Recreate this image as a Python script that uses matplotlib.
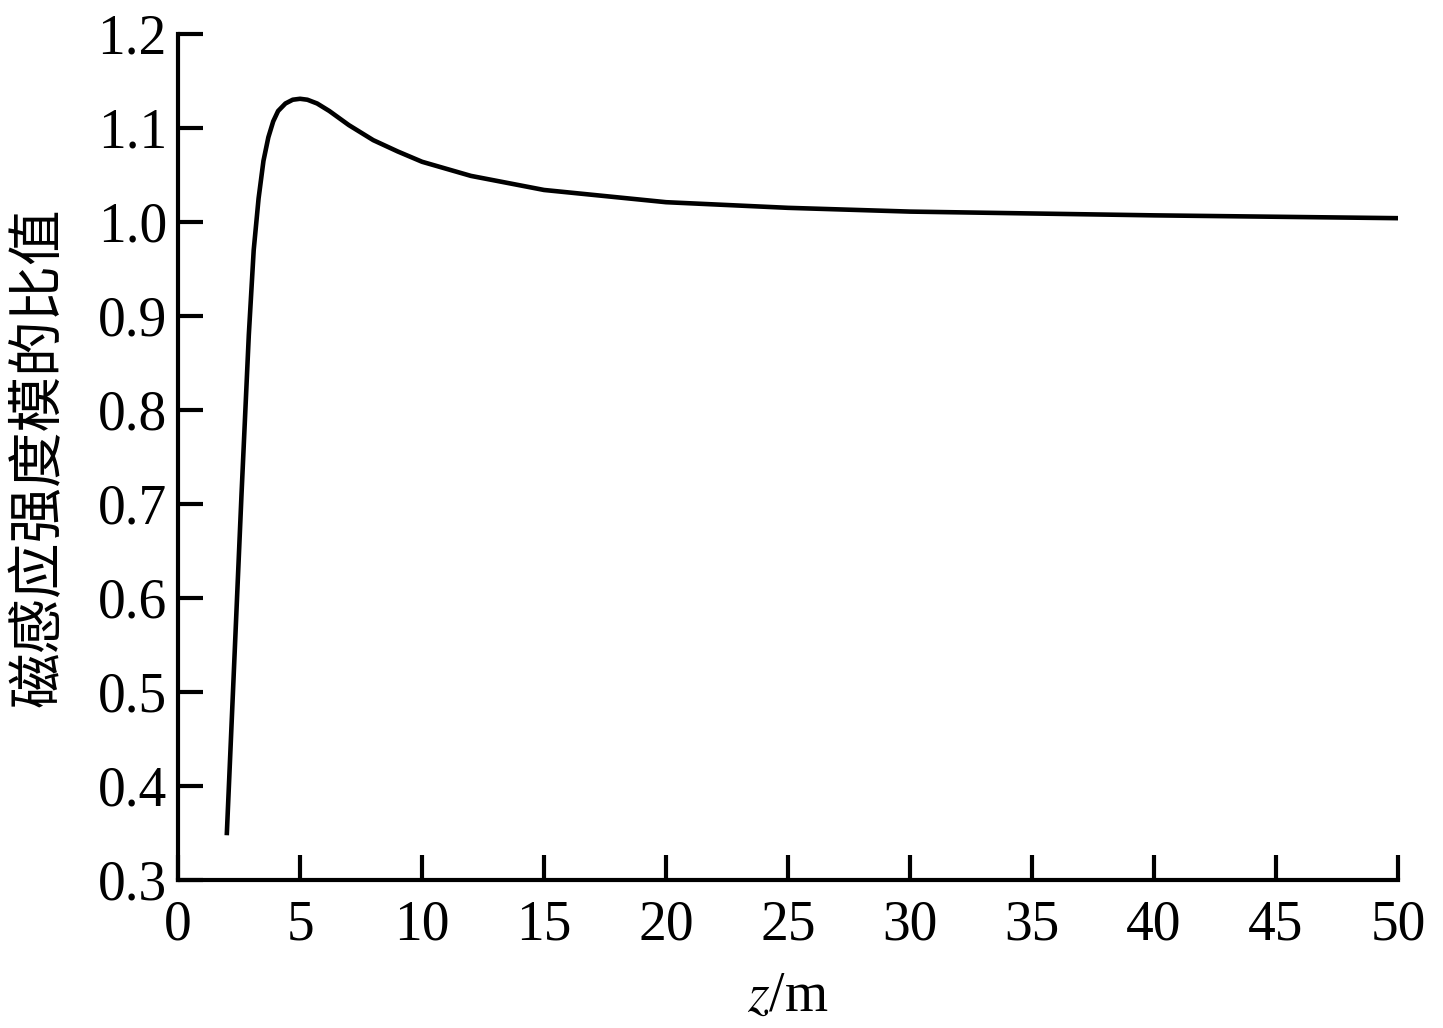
import matplotlib
matplotlib.use('Agg')
import matplotlib.pyplot as plt

plt.rcParams['mathtext.fontset'] = 'stix'

# ---------------------------------------------------------------------------
# Data
# ---------------------------------------------------------------------------
z = [2.0, 2.3, 2.6, 2.9, 3.1, 3.3, 3.5, 3.7, 3.9, 4.1, 4.4, 4.7, 5.0,
     5.3, 5.7, 6.2, 7.0, 8.0, 9.0, 10, 12, 15, 20, 25, 30, 35, 40, 45, 50]
ratio = [0.35, 0.53, 0.71, 0.88, 0.97, 1.025, 1.065, 1.09, 1.107, 1.118,
         1.126, 1.130, 1.131, 1.130, 1.126, 1.118, 1.103, 1.087, 1.075,
         1.064, 1.049, 1.034, 1.021, 1.015, 1.011, 1.009, 1.007, 1.0055,
         1.004]

x_ticks = list(range(0, 51, 5))
y_ticks = [0.3, 0.4, 0.5, 0.6, 0.7, 0.8, 0.9, 1.0, 1.1, 1.2]

SERIF = ['Liberation Serif', 'DejaVu Serif']
CJK = ['Noto Sans CJK SC', 'DejaVu Sans']
FS = 40

fig = plt.figure(figsize=(14.43, 10.28), dpi=100)
ax = fig.add_axes([0.1234, 0.144, 0.9688 - 0.1234, 0.967 - 0.144])

ax.plot(z, ratio, color='black', linewidth=3.3, solid_joinstyle='round')

ax.set_xlim(0, 50)
ax.set_ylim(0.3, 1.2)
ax.set_xticks(x_ticks)
ax.set_yticks(y_ticks)
ax.set_xticklabels([str(t) for t in x_ticks], family=SERIF, fontsize=FS)
ax.set_yticklabels([f"{t:.1f}" for t in y_ticks], family=SERIF, fontsize=FS)

ax.tick_params(direction='in', length=18, width=3, pad=8)
ax.tick_params(axis='x', pad=14)
ax.spines['top'].set_visible(False)
ax.spines['right'].set_visible(False)
for s in ('left', 'bottom'):
    ax.spines[s].set_linewidth(3)

ax.set_xlabel('$z$/m', family=SERIF, fontsize=FS, labelpad=14)
ax.set_ylabel('磁感应强度模的比值', family=CJK, fontsize=FS, labelpad=22)

fig.savefig('out.png', dpi=100)
